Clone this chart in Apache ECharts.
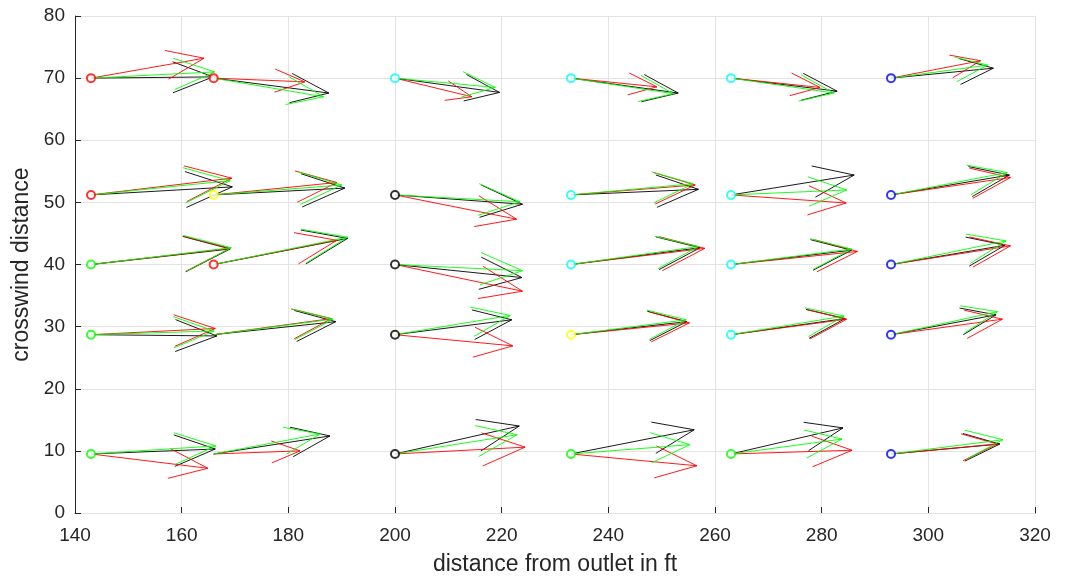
<!DOCTYPE html>
<html>
<head>
<meta charset="utf-8">
<script src="https://cdn.jsdelivr.net/npm/echarts@6/dist/echarts.min.js"></script>
<style>
  html, body { margin: 0; padding: 0; background: #fff; }
  #chart { width: 1076px; height: 576px; }
</style>
</head>
<body>
<div id="chart"></div>
<script>
// stations (x) and crosswind rows (y) of the arrow bases
var stationX = [143, 166, 200, 233, 263, 293];
var rowY = [70, 51.2, 40, 28.7, 9.5];

// vector components, one row per crosswind row, one column per station
var blackU = [
  [22.9, 21.6, 19.6, 20.1, 19.9, 19.2],
  [26.5, 24.6, 23.9, 23.9, 23.1, 22.2],
  [26.1, 25.1, 23.8, 24.2, 22.6, 21.4],
  [23.6, 22.9, 21.9, 21.7, 21.4, 19.7],
  [23.3, 21.8, 23.3, 23.1, 21.0, 20.4]
];
var blackV = [
  [0.2, -2.4, -2.3, -2.4, -2.1, 1.6],
  [1.3, 1.1, -1.5, 0.9, 3.2, 3.2],
  [2.5, 4.2, -2.1, 2.7, 2.3, 3.1],
  [-0.2, 2.1, 2.4, 2.1, 2.6, 3.2],
  [0.8, 2.9, 4.5, 3.9, 4.2, 1.6]
];
var redU = [
  [21.2, 17.1, 14.4, 16.1, 16.7, 16.8],
  [26.4, 23.1, 22.8, 23.3, 21.6, 22.4],
  [26.1, 23.1, 23.9, 25.1, 23.7, 22.4],
  [23.3, 22.1, 22.1, 22.2, 21.7, 20.9],
  [21.9, 16.2, 24.4, 23.6, 22.7, 19.9]
];
var redV = [
  [3.2, -0.6, -3.0, -1.4, -1.5, 2.8],
  [2.7, 2.0, -3.9, 1.6, -1.3, 2.8],
  [2.6, 3.9, -4.3, 2.6, 2.1, 3.0],
  [1.0, 2.6, -1.8, 1.9, 2.5, 2.5],
  [-2.3, 0.5, 1.1, -1.9, 0.6, 1.6]
];
var greenU = [
  [23.2, 20.6, 18.8, 19.2, 19.3, 18.1],
  [26.1, 24.0, 23.4, 22.9, 21.7, 21.8],
  [26.3, 25.1, 23.9, 23.9, 22.6, 21.6],
  [23.1, 22.4, 21.6, 21.6, 21.2, 20.0],
  [23.4, 19.9, 22.9, 22.3, 20.8, 21.0]
];
var greenV = [
  [1.0, -3.0, -1.5, -2.5, -2.4, 2.1],
  [2.3, 1.6, -1.1, 1.8, 0.8, 3.6],
  [2.7, 4.4, -1.0, 2.9, 2.5, 3.8],
  [0.6, 2.5, 3.1, 2.4, 3.0, 3.7],
  [1.3, 3.2, 3.1, 1.5, 2.4, 2.3]
];
// circle marker colour at each base ('' = none drawn)
var markerColor = [
  ['#ff0000', '#ff0000', '#00ffff', '#00ffff', '#00ffff', '#0000ff'],
  ['#ff0000', '#ffff00', '#000000', '#00ffff', '#00ffff', '#0000ff'],
  ['#00ff00', '#ff0000', '#000000', '#00ffff', '#00ffff', '#0000ff'],
  ['#00ff00', '', '#000000', '#ffff00', '#00ffff', '#0000ff'],
  ['#00ff00', '', '#000000', '#00ff00', '#00ff00', '#0000ff']
];

// quiver style arrows (shaft + head, head computed in data units)
var alpha = 0.33, beta = 0.33;
var quiver = function(U, V){
  var out = [];
  for(var r = 0; r < rowY.length; r++){
    for(var s = 0; s < stationX.length; s++){
      var x = stationX[s], y = rowY[r], u = U[r][s], v = V[r][s];
      var tx = x + u, ty = y + v;
      out.push({coords: [[x, y], [tx, ty]]});
      out.push({coords: [
        [tx - alpha * (u + beta * v), ty - alpha * (v - beta * u)],
        [tx, ty],
        [tx - alpha * (u - beta * v), ty - alpha * (v + beta * u)]
      ]});
    }
  }
  return out;
};

var markers = [];
for(var r = 0; r < rowY.length; r++){
  for(var s = 0; s < stationX.length; s++){
    if(markerColor[r][s]){
      markers.push({value: [stationX[s], rowY[r]], itemStyle: {color: markerColor[r][s]}});
    }
  }
}

var txt = '#262626';
var gridCol = '#e3e3e3';
var font = '"Liberation Sans", Arial, sans-serif';
var arrowSeries = function(name, color, U, V){
  return {
    name: name,
    type: 'lines',
    coordinateSystem: 'cartesian2d',
    polyline: true,
    silent: true,
    lineStyle: {color: color, width: 0.9, opacity: 1},
    data: quiver(U, V)
  };
};

var chart = echarts.init(document.getElementById('chart'));
chart.setOption({
  animation: false,
  backgroundColor: '#fff',
  grid: {left: 75, right: 41, top: 16, bottom: 63, outerBoundsMode: 'none', containLabel: false},
  xAxis: [{
    type: 'value', min: 140, max: 320, interval: 20,
    name: 'distance from outlet in ft', nameLocation: 'middle', nameGap: 40,
    nameTextStyle: {color: txt, fontSize: 23, fontFamily: font},
    axisLine: {show: true, lineStyle: {color: txt}},
    axisTick: {show: true, inside: true, length: 6, lineStyle: {color: txt}},
    axisLabel: {color: txt, fontSize: 19, fontFamily: font, margin: 13},
    splitLine: {show: true, lineStyle: {color: gridCol, width: 1}}
  }, {
    type: 'value', position: 'top', min: 140, max: 320, interval: 20,
    axisLine: {show: true, lineStyle: {color: gridCol}},
    axisTick: {show: false}, axisLabel: {show: false}, splitLine: {show: false}
  }],
  yAxis: [{
    type: 'value', min: 0, max: 80, interval: 10,
    name: 'crosswind distance', nameLocation: 'middle', nameGap: 34,
    nameTextStyle: {color: txt, fontSize: 23, fontFamily: font},
    axisLine: {show: true, lineStyle: {color: txt}},
    axisTick: {show: true, inside: true, length: 6, lineStyle: {color: txt}},
    axisLabel: {color: txt, fontSize: 19, fontFamily: font, margin: 10},
    splitLine: {show: true, lineStyle: {color: gridCol, width: 1}}
  }, {
    type: 'value', position: 'right', min: 0, max: 80, interval: 10,
    axisLine: {show: true, lineStyle: {color: gridCol}},
    axisTick: {show: false}, axisLabel: {show: false}, splitLine: {show: false}
  }],
  series: [
    {
      type: 'scatter', symbol: 'emptyCircle', symbolSize: 8, silent: true,
      itemStyle: {borderWidth: 0.8},
      data: markers
    },
    arrowSeries('black', '#000000', blackU, blackV),
    arrowSeries('red', '#ff0000', redU, redV),
    arrowSeries('green', '#00ff00', greenU, greenV)
  ]
});
</script>
</body>
</html>
